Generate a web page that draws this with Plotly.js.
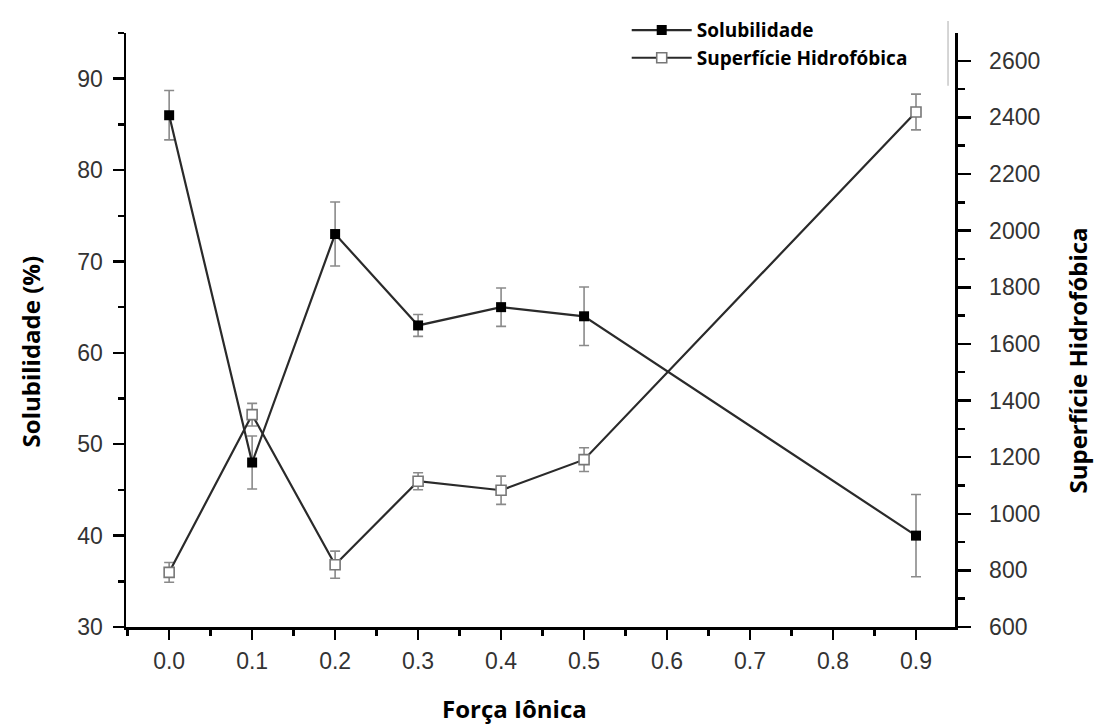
<!DOCTYPE html>
<html>
<head>
<meta charset="utf-8">
<script src="https://cdn.plot.ly/plotly-3.0.1.min.js"></script>
<style>html,body{margin:0;padding:0;background:#fff;}</style>
</head>
<body>
<div id="chart" style="width:1095px;height:725px;"></div>
<script>
// Data
const forcaIonica = [0.0, 0.1, 0.2, 0.3, 0.4, 0.5, 0.9];
const solubilidade = [86, 48, 73, 63, 65, 64, 40];
const solubilidadeErro = [2.7, 2.9, 3.5, 1.2, 2.1, 3.2, 4.5];
const superficie = [793, 1350, 820, 1115, 1083, 1191, 2419];
const superficieErro = [35, 40, 48, 30, 50, 42, 63];
const xTickVals = [0.0, 0.1, 0.2, 0.3, 0.4, 0.5, 0.6, 0.7, 0.8, 0.9];
const xTickText = ["0.0", "0.1", "0.2", "0.3", "0.4", "0.5", "0.6", "0.7", "0.8", "0.9"];
const yTickVals = [30, 40, 50, 60, 70, 80, 90];
const y2TickVals = [600, 800, 1000, 1200, 1400, 1600, 1800, 2000, 2200, 2400, 2600];
const xTitle = "Força Iônica";
const yTitle = "Solubilidade (%)";
const y2Title = "Superfície Hidrofóbica";

const tickFont = {family: "Liberation Sans, Arial, sans-serif", size: 23, color: "#333"};
const titleFont = {family: "Open Sans, sans-serif", size: 24, color: "#000", weight: "bold"};

const traces = [
  {
    x: forcaIonica, y: solubilidade, name: "Solubilidade",
    type: "scatter", mode: "lines+markers", yaxis: "y",
    line: {color: "#2a2a2a", width: 2.2},
    marker: {symbol: "square", size: 10, color: "#000"},
    error_y: {type: "data", array: solubilidadeErro, color: "#8a8a8a", thickness: 1.6, width: 5}
  },
  {
    x: forcaIonica, y: superficie, name: "Superfície Hidrofóbica",
    type: "scatter", mode: "lines+markers", yaxis: "y2",
    line: {color: "#2a2a2a", width: 2.2},
    marker: {symbol: "square", size: 10, color: "#fff", line: {color: "#777", width: 1.6}},
    error_y: {type: "data", array: superficieErro, color: "#8a8a8a", thickness: 1.6, width: 5}
  }
];

const layout = {
  width: 1095, height: 725,
  margin: {l: 126, r: 140, t: 32, b: 98},
  paper_bgcolor: "#fff", plot_bgcolor: "#fff",
  showlegend: true,
  legend: {
    x: 0.604, y: 1.035, xanchor: "left", yanchor: "top",
    bgcolor: "rgba(0,0,0,0)",
    font: {family: "Open Sans, sans-serif", size: 19, color: "#000", weight: "bold"},
    itemwidth: 60, tracegroupgap: 0
  },
  xaxis: {
    range: [-0.052, 0.947],
    tickvals: xTickVals, ticktext: xTickText,
    showline: true, linecolor: "#000", linewidth: 2.5, mirror: false,
    ticks: "outside", ticklen: 10, tickwidth: 2.5, tickcolor: "#000",
    minor: {dtick: 0.05, ticks: "outside", ticklen: 6, tickwidth: 2.5, tickcolor: "#000", showgrid: false},
    showgrid: false, zeroline: false,
    tickfont: tickFont, ticklabelstandoff: 2
  },
  yaxis: {
    range: [30, 95],
    tickvals: yTickVals,
    showline: true, linecolor: "#000", linewidth: 2.5,
    ticks: "outside", ticklen: 11, tickwidth: 2.5, tickcolor: "#000",
    minor: {dtick: 5, ticks: "outside", ticklen: 6, tickwidth: 2.5, tickcolor: "#000", showgrid: false},
    showgrid: false, zeroline: false,
    tickfont: tickFont, ticklabelstandoff: 5
  },
  yaxis2: {
    range: [600, 2698],
    overlaying: "y", side: "right", anchor: "x",
    tickvals: y2TickVals,
    showline: true, linecolor: "#000", linewidth: 2.5,
    ticks: "outside", ticklen: 13, tickwidth: 2.5, tickcolor: "#000",
    minor: {dtick: 100, ticks: "outside", ticklen: 7, tickwidth: 2.5, tickcolor: "#000", showgrid: false},
    showgrid: false, zeroline: false,
    tickfont: tickFont, ticklabelstandoff: 14
  },
  annotations: [
    {text: xTitle, xref: "paper", yref: "paper", x: 0.469, y: -0.1378,
     xanchor: "center", yanchor: "middle", showarrow: false, font: titleFont},
    {text: yTitle, xref: "paper", yref: "paper", x: -0.1158, y: 0.4639, textangle: -90,
     xanchor: "center", yanchor: "middle", showarrow: false, font: titleFont},
    {text: y2Title, xref: "paper", yref: "paper", x: 1.1472, y: 0.4487, textangle: -90,
     xanchor: "center", yanchor: "middle", showarrow: false, font: titleFont}
  ],
  shapes: [
    {type: "line", xref: "paper", yref: "paper", x0: 0.9916, x1: 0.9916, y0: 1.02, y1: 0.911,
     line: {color: "#c8c8c8", width: 1.5}}
  ]
};

Plotly.newPlot("chart", traces, layout, {displayModeBar: false, staticPlot: true});
</script>
</body>
</html>
